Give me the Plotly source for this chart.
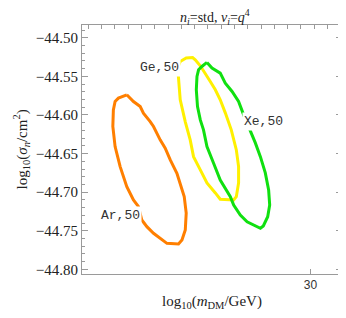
import plotly.graph_objects as go

# Contour data: x = log10(m_DM/GeV), y = log10(sigma_n/cm^2)
ar_x = [1.3390, 1.3327, 1.3302, 1.3289, 1.3285, 1.3302, 1.3340, 1.3390, 1.3440, 1.3478,
        1.3503, 1.3541, 1.3591, 1.3692, 1.3779, 1.3805, 1.3830, 1.3837, 1.3822, 1.3792,
        1.3767, 1.3717, 1.3679, 1.3641, 1.3591, 1.3566, 1.3515, 1.3491, 1.3440, 1.3390]
ar_y = [-44.5739, -44.5782, -44.5826, -44.5934, -44.6150, -44.6410, -44.6669, -44.6929, -44.7101, -44.7188,
        -44.7361, -44.7447, -44.7533, -44.7663, -44.7672, -44.7620, -44.7490, -44.7270, -44.7058, -44.6885,
        -44.6755, -44.6582, -44.6431, -44.6323, -44.6150, -44.6086, -44.5977, -44.5891, -44.5826, -44.5739]

ge_x = [1.3792, 1.3837, 1.3885, 1.3905, 1.3943, 1.3980, 1.4018, 1.4056, 1.4093, 1.4131,
        1.4176, 1.4214, 1.4231, 1.4231, 1.4214, 1.4194, 1.4093, 1.4056, 1.3993, 1.3943,
        1.3892, 1.3867, 1.3830, 1.3792, 1.3779, 1.3773, 1.3792]
ge_y = [-44.5307, -44.5263, -44.5256, -44.5285, -44.5363, -44.5458, -44.5567, -44.5674, -44.5804, -44.5973,
        -44.6193, -44.6453, -44.6669, -44.6881, -44.7058, -44.7101, -44.7092, -44.7010, -44.6881, -44.6712,
        -44.6540, -44.6323, -44.6089, -44.5804, -44.5502, -44.5389, -44.5307]

xe_x = [1.3993, 1.4031, 1.4093, 1.4131, 1.4182, 1.4231, 1.4269, 1.4319, 1.4357, 1.4395,
        1.4432, 1.4457, 1.4465, 1.4450, 1.4417, 1.4395, 1.4295, 1.4244, 1.4194, 1.4169,
        1.4093, 1.4043, 1.3993, 1.3967, 1.3943, 1.3922, 1.3913, 1.3918, 1.3930, 1.3955, 1.3993]
xe_y = [-44.5320, -44.5393, -44.5458, -44.5588, -44.5696, -44.5826, -44.5999, -44.6193, -44.6362, -44.6540,
        -44.6751, -44.6971, -44.7166, -44.7318, -44.7438, -44.7468, -44.7383, -44.7296, -44.7166, -44.7058,
        -44.6842, -44.6625, -44.6410, -44.6193, -44.6064, -44.5891, -44.5674, -44.5502, -44.5415, -44.5372, -44.5320]

labels = ["Ar,50", "Ge,50", "Xe,50"]
label_x = [1.3340, 1.3634, 1.4417]
label_y = [-44.7296, -44.5389, -44.6089]

colors = ["#FF7F00", "#FFF000", "#10E010"]

y_ticks = [-44.50, -44.55, -44.60, -44.65, -44.70, -44.75, -44.80]
y_ticktext = ["\u221244.50", "\u221244.55", "\u221244.60", "\u221244.65", "\u221244.70", "\u221244.75", "\u221244.80"]
x_tickvals = [1.4771213]
x_ticktext = ["30"]
top_ticks = [1.31, 1.32, 1.33, 1.34, 1.35, 1.36, 1.37, 1.38, 1.39, 1.40,
             1.41, 1.42, 1.43, 1.44, 1.45, 1.46, 1.47, 1.48, 1.49, 1.50]

x_range = [1.3053, 1.5009]
y_range = [-44.806, -44.4835]

SERIF = "Liberation Serif"

fig = go.Figure()
for xs, ys, c in zip([ar_x, ge_x, xe_x], [ar_y, ge_y, xe_y], colors):
    fig.add_trace(go.Scatter(x=xs, y=ys, mode="lines",
                             line=dict(color=c, width=3), showlegend=False, hoverinfo="skip"))
fig.add_trace(go.Scatter(x=[], y=[], xaxis="x2", showlegend=False))

for t, lx, ly in zip(labels, label_x, label_y):
    fig.add_annotation(x=lx, y=ly, text=t, showarrow=False, bgcolor="white",
                       font=dict(family="Liberation Mono", size=13, color="#333"))

# axis titles as annotations
fig.add_annotation(xref="paper", yref="paper", x=0.5, y=-0.112, yanchor="middle",
                   text="log<sub>10</sub>(<i>m</i><sub>DM</sub>/GeV)", showarrow=False,
                   font=dict(family=SERIF, size=15, color="#222"))
fig.add_annotation(xref="paper", yref="paper", x=-0.235, y=0.5, xanchor="center", yanchor="middle",
                   textangle=-90,
                   text="log<sub>10</sub>(<i>\u03c3</i><sub><i>n</i></sub>/cm<sup>2</sup>)", showarrow=False,
                   font=dict(family=SERIF, size=15, color="#222"))
# title
fig.add_annotation(xref="paper", yref="paper", x=0.51, y=1.0, yanchor="bottom", yshift=-4,
                   text="<i>n</i><sub><i>i</i></sub>=std, <i>v</i><sub><i>i</i></sub>=<i>q</i><sup>4</sup>",
                   showarrow=False, font=dict(family=SERIF, size=14, color="#222"))

grey = "#9a9a9a"
fig.update_layout(
    width=338, height=310,
    margin=dict(l=74, r=4, t=17, b=44, autoexpand=False),
    paper_bgcolor="white", plot_bgcolor="white",
    xaxis=dict(range=x_range, tickvals=x_tickvals, ticktext=x_ticktext, automargin=False,
               ticks="inside", ticklen=5, tickcolor=grey, showline=True, linecolor=grey,
               linewidth=1, mirror=True, showgrid=False, zeroline=False,
               tickfont=dict(family="Liberation Sans", size=12, color="#333")),
    xaxis2=dict(range=x_range, overlaying="x", side="top", tickvals=top_ticks, automargin=False,
                ticks="inside", ticklen=4, tickcolor=grey, showticklabels=False,
                showline=False, showgrid=False, zeroline=False),
    yaxis=dict(range=y_range, tickvals=y_ticks, ticktext=y_ticktext, automargin=False,
               ticks="inside", ticklen=6, tickcolor=grey, showline=True, linecolor=grey,
               linewidth=1, mirror="ticks", showgrid=False, zeroline=False,
               minor=dict(dtick=0.01, tick0=-44.5, ticks="inside", ticklen=3, tickcolor=grey, showgrid=False),
               tickfont=dict(family=SERIF, size=15, color="#222")),
)

fig.write_html("out.html")
